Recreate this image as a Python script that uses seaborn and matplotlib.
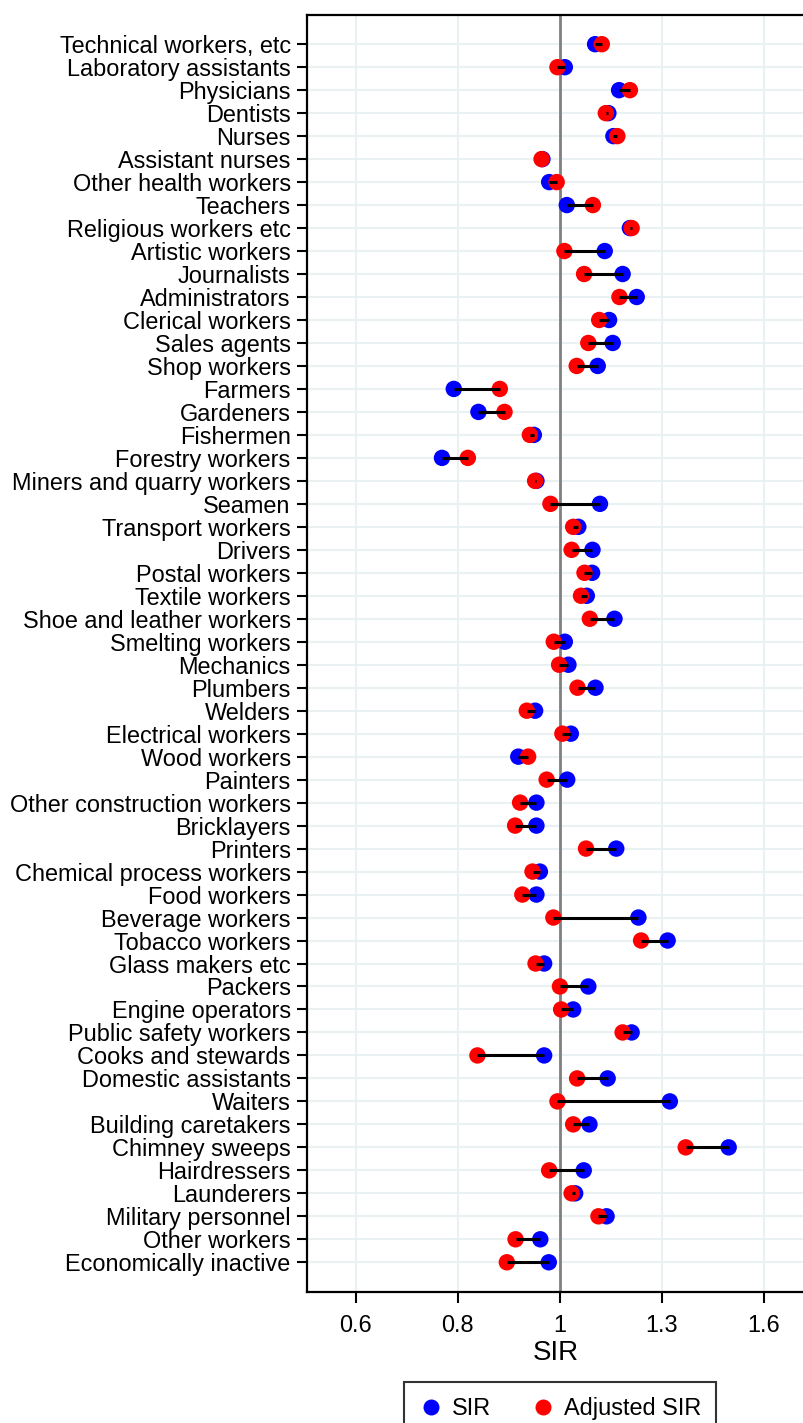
import numpy as np
import pandas as pd
import matplotlib
matplotlib.use('Agg')
import matplotlib.pyplot as plt
from matplotlib.ticker import FixedLocator, FixedFormatter, NullLocator
from matplotlib.lines import Line2D
import seaborn as sns

# occupations, top to bottom
occupations = [
    'Technical workers, etc', 'Laboratory assistants', 'Physicians', 'Dentists',
    'Nurses', 'Assistant nurses', 'Other health workers', 'Teachers',
    'Religious workers etc', 'Artistic workers', 'Journalists', 'Administrators',
    'Clerical workers', 'Sales agents', 'Shop workers', 'Farmers', 'Gardeners',
    'Fishermen', 'Forestry workers', 'Miners and quarry workers', 'Seamen',
    'Transport workers', 'Drivers', 'Postal workers', 'Textile workers',
    'Shoe and leather workers', 'Smelting workers', 'Mechanics', 'Plumbers',
    'Welders', 'Electrical workers', 'Wood workers', 'Painters',
    'Other construction workers', 'Bricklayers', 'Printers',
    'Chemical process workers', 'Food workers', 'Beverage workers',
    'Tobacco workers', 'Glass makers etc', 'Packers', 'Engine operators',
    'Public safety workers', 'Cooks and stewards', 'Domestic assistants',
    'Waiters', 'Building caretakers', 'Chimney sweeps', 'Hairdressers',
    'Launderers', 'Military personnel', 'Other workers', 'Economically inactive',
]

sir = [
    1.090, 1.012, 1.156, 1.126, 1.140, 0.958, 0.974, 1.017, 1.187, 1.116,
    1.166, 1.207, 1.128, 1.138, 1.097, 0.771, 0.819, 0.938, 0.749, 0.944,
    1.103, 1.046, 1.083, 1.082, 1.068, 1.143, 1.012, 1.021, 1.091, 0.941,
    1.027, 0.903, 1.018, 0.944, 0.944, 1.148, 0.952, 0.944, 1.212, 1.302,
    0.962, 1.072, 1.033, 1.192, 0.962, 1.124, 1.309, 1.075, 1.512, 1.060,
    1.038, 1.121, 0.953, 0.973,
]

adjusted_sir = [
    1.108, 0.994, 1.187, 1.119, 1.151, 0.956, 0.992, 1.084, 1.192, 1.011,
    1.061, 1.157, 1.101, 1.072, 1.042, 0.863, 0.873, 0.929, 0.798, 0.941,
    0.977, 1.033, 1.029, 1.062, 1.053, 1.076, 0.985, 0.998, 1.044, 0.922,
    1.006, 0.925, 0.968, 0.907, 0.896, 1.066, 0.935, 0.912, 0.984, 1.220,
    0.942, 1.000, 1.003, 1.166, 0.817, 1.043, 0.994, 1.033, 1.361, 0.974,
    1.029, 1.099, 0.897, 0.878,
]

tick_logs = [-0.5, -0.25, 0, 0.25, 0.5]
tick_labels = ['0.6', '0.8', '1', '1.3', '1.6']

W, H = 804, 1423
DPI = 100

sns.set_style('white')
plt.rcParams['font.family'] = ['Liberation Sans', 'DejaVu Sans']
plt.rcParams['text.color'] = 'black'
plt.rcParams['axes.labelcolor'] = 'black'
plt.rcParams['xtick.color'] = 'black'
plt.rcParams['ytick.color'] = 'black'

n = len(occupations)
pos = np.arange(n)
df = pd.DataFrame({'occupation': occupations, 'pos': pos,
                   'SIR': sir, 'Adjusted SIR': adjusted_sir})
long = df.melt(id_vars=['occupation', 'pos'], value_vars=['SIR', 'Adjusted SIR'],
               var_name='measure', value_name='value')

fig = plt.figure(figsize=(W / DPI, H / DPI), dpi=DPI)
ax = fig.add_axes([307.3 / W, 1 - 1291.7 / H, 1 - 307.3 / W, (1291.7 - 15) / H])

ax.axvline(1, color='#808080', lw=2, zorder=1.5)
sns.scatterplot(data=long, x='value', y='pos', hue='measure',
                palette={'SIR': '#0000ff', 'Adjusted SIR': '#ff0000'},
                s=140, linewidth=0, edgecolor='none', legend=False,
                zorder=2, ax=ax)
ax.hlines(df['pos'], df['SIR'], df['Adjusted SIR'], color='black', lw=2.2, zorder=3)

ax.set_xscale('log')
ax.set_xlim(np.exp(-0.619), np.exp(0.598))
ax.set_ylim(n - 1 + 1.28, -1.27)

ax.xaxis.set_major_locator(FixedLocator(np.exp(tick_logs)))
ax.xaxis.set_major_formatter(FixedFormatter(tick_labels))
ax.xaxis.set_minor_locator(NullLocator())
ax.set_yticks(pos)
ax.set_yticklabels(occupations)

ax.grid(True, color='#eaf1f3', lw=1.5)
ax.set_axisbelow(True)

for side in ['left', 'bottom', 'top']:
    ax.spines[side].set_color('black')
    ax.spines[side].set_linewidth(1.6)
ax.spines['right'].set_visible(False)

ax.tick_params(axis='y', which='major', left=True, length=7, width=1.5,
               pad=5, labelsize=16.9, color='black', labelcolor='black')
ax.tick_params(axis='x', which='major', bottom=True, length=8, width=1.5,
               pad=8, labelsize=16.9, color='black', labelcolor='black')
ax.set_xlabel('SIR', fontsize=20, labelpad=2, color='black')
ax.set_ylabel('')

handles = [
    Line2D([], [], marker='o', color='none', markerfacecolor='#0000ff',
           markeredgecolor='none', markersize=11.5, label='SIR'),
    Line2D([], [], marker='o', color='none', markerfacecolor='#ff0000',
           markeredgecolor='none', markersize=11.5, label='Adjusted SIR'),
]
leg = fig.legend(handles=handles, loc='upper center', ncol=2,
                 bbox_to_anchor=(560 / W, 1 - 1382 / H), borderaxespad=0,
                 frameon=True, fancybox=False, edgecolor='black', fontsize=16.9,
                 handletextpad=0.4, columnspacing=1.7, borderpad=0.65,
                 handlelength=1.0)
leg.get_frame().set_linewidth(1.5)

fig.savefig('out.png', dpi=DPI)
